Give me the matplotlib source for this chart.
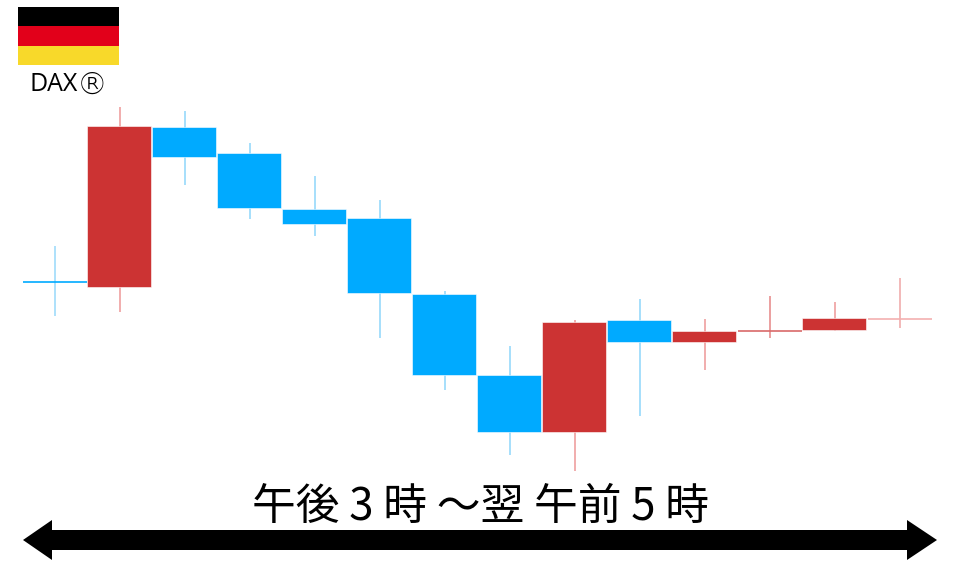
import matplotlib
matplotlib.use("Agg")
import matplotlib.pyplot as plt
from matplotlib.patches import Rectangle, Polygon

# prices are on an arbitrary scale
opens = [285, 280, 440, 414, 358, 349, 273, 192, 135, 247, 225, 236, 237, 248]
closes = [285, 441, 410, 359, 343, 274, 192, 135, 245, 225, 236, 236, 249, 248]
highs = [321, 460, 456, 424, 391, 367, 276, 221, 247, 268, 248, 271, 265, 289]
lows = [251, 255, 382, 348, 331, 229, 177, 112, 96, 151, 197, 229, 236, 239]
title = "午後 3 時 ～翌 午前 5 時"
index_name = "DAX"
flag_colors = ["#000000", "#e2001a", "#f8d92a"]

UP = "#cc3333"
DOWN = "#00aaff"
UP_WICK = "#ef9f9f"
DOWN_WICK = "#97d9fb"
# open equals close on these, so the picture's colour has to be given
doji_colors = {0: (DOWN, DOWN_WICK), 11: ("#d96a6a", "#e58585"), 13: ("#f3b0b0", "#efa6a6")}

fig = plt.figure(figsize=(9.6, 5.67), dpi=100)
ax = fig.add_axes([0, 0, 1, 1])
ax.set_xlim(-55 / 65, (960 - 55) / 65)
ax.set_ylim(0, 567)
ax.axis("off")

for i in range(len(opens)):
    up = closes[i] >= opens[i]
    bottom = min(opens[i], closes[i])
    height = abs(closes[i] - opens[i])
    if height == 0:
        line_color, wick = doji_colors[i]
        ax.vlines(i, lows[i], highs[i], color=wick, lw=1.1, zorder=1)
        ax.hlines(opens[i], i - 0.49, i + 0.49, color=line_color, lw=1.2, zorder=2)
    else:
        ax.vlines(i, lows[i], highs[i], color=UP_WICK if up else DOWN_WICK, lw=1.2, zorder=1)
        ax.bar(i - 0.008, height, 0.985, bottom, color=UP if up else DOWN,
               edgecolor="white", lw=0.4, zorder=2)


# everything below is placed in pixels from the top left
def to_fig(x, y):
    return x / 960, 1 - y / 567


for k, c in enumerate(flag_colors):
    x0, y0 = to_fig(18, 7 + 19.4 * (k + 1))
    fig.add_artist(Rectangle((x0, y0), 101 / 960, 19.4 / 567, transform=fig.transFigure, fc=c, ec="none"))

fig.text(*to_fig(78, 85), index_name, fontsize=18, ha="right", va="center",
         family=["Open Sans", "DejaVu Sans"])
fig.text(*to_fig(77, 85), "®", fontsize=22, ha="left", va="center",
         family=["DejaVu Sans"], fontweight="light")
fig.text(*to_fig(480, 507), title, fontsize=31.5, ha="center", va="center",
         family=["Noto Sans CJK JP", "DejaVu Sans"])

arrow = [(23, 540), (52, 520), (52, 530), (907, 530), (907, 520), (937, 540),
         (907, 560), (907, 550), (52, 550), (52, 560)]
fig.add_artist(Polygon([to_fig(x, y) for x, y in arrow], closed=True, transform=fig.transFigure,
                       fc="black", ec="none"))

fig.savefig("out.png", dpi=100)
